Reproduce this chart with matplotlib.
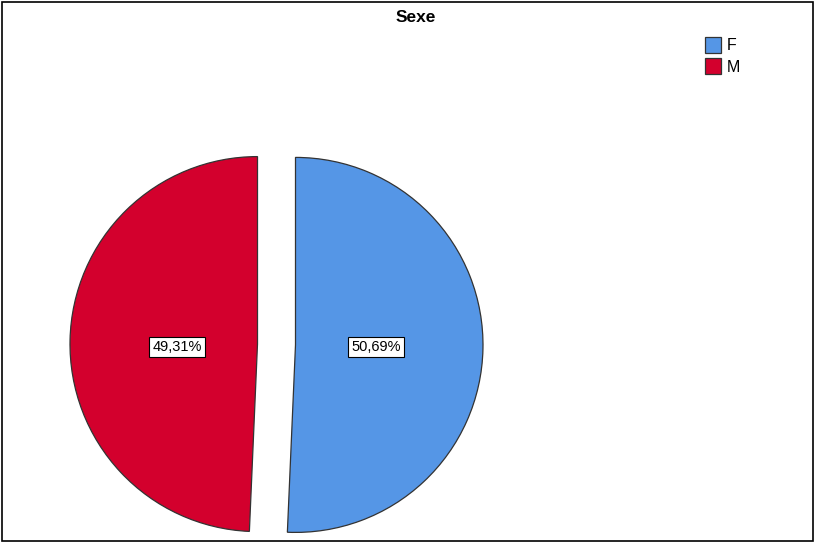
import matplotlib.pyplot as plt
from matplotlib.patches import Rectangle, Patch

plt.rcParams['font.family'] = ['Liberation Sans', 'DejaVu Sans']

labels = ['F', 'M']
values = [50.69, 49.31]
colors = ['#5596e6', '#d3002d']

fig = plt.figure(figsize=(8.16, 5.43), dpi=100)
ax = fig.add_axes([0, 0, 1, 1])

# explode is in data units here (pixels), not a fraction of the radius
wedges, texts, autotexts = ax.pie(
    values, colors=colors, startangle=90, counterclock=False,
    center=(276.5, 198.5), radius=187.5, explode=[19, 19],
    autopct=lambda p: '{:.2f}%'.format(p).replace('.', ','),
    pctdistance=0.43, frame=True,
    wedgeprops=dict(edgecolor='#333333', linewidth=0.9),
    textprops=dict(fontsize=10.5, color='black'))
for t in autotexts:
    t.set_bbox(dict(facecolor='white', edgecolor='black', linewidth=0.8,
                    boxstyle='square,pad=0.2'))
    # SPSS puts both labels on one line
    t.set_y(autotexts[0].get_position()[1])
ax.set_xlim(0, 816)
ax.set_ylim(0, 543)
ax.set_aspect('equal')
ax.axis('off')

fig.text(0.509, 0.968, 'Sexe', ha='center', va='center', fontsize=12.5,
         fontweight='bold')

handles = [Patch(facecolor=c, edgecolor='#333333', linewidth=0.9)
           for c in colors]
fig.legend(handles, labels, loc='upper left', bbox_to_anchor=(0.850, 0.953),
           frameon=False, fontsize=11.5, handlelength=1.0, handleheight=1.2,
           handletextpad=0.35, labelspacing=0.3, borderpad=0.2)

fig.patches.append(Rectangle((0.003, 0.004), 0.993, 0.992,
                             transform=fig.transFigure, fill=False,
                             edgecolor='black', linewidth=1.2))

plt.savefig('out.png', dpi=100)
